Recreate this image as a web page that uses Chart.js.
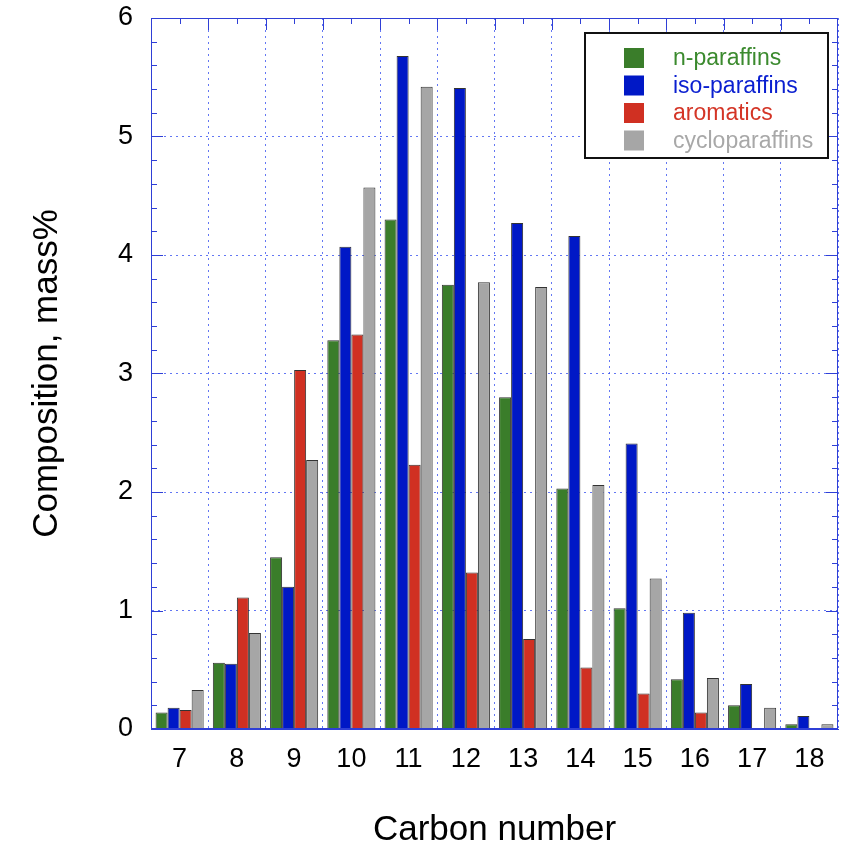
<!DOCTYPE html>
<html>
<head>
<meta charset="utf-8">
<script src="https://cdn.jsdelivr.net/npm/chart.js@4.4.0/dist/chart.umd.min.js"></script>
<style>
  body { margin: 0; background: #fff; }
  #wrap { width: 856px; height: 848px; }
</style>
</head>
<body>
<div id="wrap"><canvas id="carbchart" width="856" height="848"></canvas></div>
<script>
var carbonNumbers = ["7","8","9","10","11","12","13","14","15","16","17","18"];
var nParaffins   = [0.14, 0.56, 1.45, 3.28, 4.30, 3.75, 2.80, 2.03, 1.02, 0.42, 0.20, 0.04];
var isoParaffins = [0.18, 0.55, 1.20, 4.07, 5.68, 5.41, 4.27, 4.16, 2.41, 0.98, 0.38, 0.11];
var aromatics    = [0.16, 1.11, 3.03, 3.33, 2.23, 1.32, 0.76, 0.52, 0.30, 0.14, null, null];
var cycloParaffins = [0.33, 0.81, 2.27, 4.57, 5.42, 3.77, 3.73, 2.06, 1.27, 0.43, 0.18, 0.04];
var yTicks = [0, 1, 2, 3, 4, 5, 6];

var axisBlue = "#2f3fd6";
var gridBlue = "rgba(60,85,240,0.8)";

Chart.defaults.font.family = "'Liberation Sans', Arial, sans-serif";
Chart.defaults.color = "black";

function bars(label, data, fill, textColor) {
  return {
    label: label,
    data: data,
    backgroundColor: fill,
    borderColor: "#333",
    borderWidth: 1,
    textColor: textColor,
    categoryPercentage: 0.84,
    barPercentage: 1.0
  };
}

// frame, inward ticks and boxed legend
var framePlugin = {
  id: "frame",
  afterDraw: function(chart) {
    var ctx = chart.ctx, a = chart.chartArea;
    var y = chart.scales.y, x = chart.scales.x;
    ctx.save();
    ctx.setLineDash([]);
    ctx.strokeStyle = axisBlue;
    ctx.lineWidth = 1;
    ctx.strokeRect(a.left + 0.5, a.top + 0.5, a.right - a.left - 1, a.bottom - a.top - 1);
    ctx.beginPath();
    for (var v = 0; v <= 6.001; v += 0.2) {
      var py = Math.round(y.getPixelForValue(v)) + 0.5;
      var major = Math.abs(v - Math.round(v)) < 0.01;
      var len = major ? 12 : 6;
      ctx.moveTo(a.left, py); ctx.lineTo(a.left + len, py);
      ctx.moveTo(a.right, py); ctx.lineTo(a.right - len, py);
    }
    for (var i = 0; i < carbonNumbers.length; i++) {
      var cx = Math.round(x.getPixelForValue(i)) + 0.5;
      ctx.moveTo(cx, a.top); ctx.lineTo(cx, a.top + 6);
      if (i > 0) {
        var bx = Math.round((x.getPixelForValue(i) + x.getPixelForValue(i - 1)) / 2) + 0.5;
        ctx.moveTo(bx, a.top); ctx.lineTo(bx, a.top + 12);
      }
    }
    ctx.stroke();

    // legend box
    ctx.fillStyle = "#fff";
    ctx.fillRect(585, 33, 243, 125);
    ctx.strokeStyle = "#111";
    ctx.lineWidth = 2;
    ctx.strokeRect(585, 33, 243, 125);
    ctx.font = "23px 'Liberation Sans', Arial, sans-serif";
    ctx.textBaseline = "middle";
    chart.data.datasets.forEach(function(ds, k) {
      var top = 48 + k * 27.5;
      ctx.fillStyle = ds.backgroundColor;
      ctx.fillRect(624, top, 20, 20);
      ctx.fillStyle = ds.textColor;
      ctx.fillText(ds.label, 673, top + 11);
    });
    ctx.restore();
  }
};

new Chart(document.getElementById("carbchart"), {
  type: "bar",
  data: {
    labels: carbonNumbers,
    datasets: [
      bars("n-paraffins", nParaffins, "#3a7d2a", "#3b8a2e"),
      bars("iso-paraffins", isoParaffins, "#0018c6", "#0a1fd0"),
      bars("aromatics", aromatics, "#d03022", "#d43526"),
      bars("cycloparaffins", cycloParaffins, "#a6a6a6", "#a8a8a8")
    ]
  },
  options: {
    responsive: false,
    animation: false,
    layout: { padding: { top: 18, right: 18, left: 0, bottom: 0 } },
    plugins: {
      legend: { display: false },
      tooltip: { enabled: false }
    },
    scales: {
      x: {
        offset: true,
        afterFit: function(s) {
          s.height = 119;
          s.paddingLeft = 0; s.paddingRight = 0;
        },
        grid: {
          offset: true,
          color: gridBlue,
          lineWidth: 1,
          drawTicks: false
        },
        border: { display: true, color: axisBlue, dash: [2, 4] },
        ticks: { font: { size: 27 }, padding: 14 },
        title: {
          display: true,
          text: "Carbon number",
          font: { size: 35, lineHeight: 1.0 },
          padding: { top: 0, bottom: 0 }
        }
      },
      y: {
        min: 0,
        max: 6,
        afterFit: function(s) {
          s.width = 151;
          s.paddingTop = 0; s.paddingBottom = 0;
        },
        afterBuildTicks: function(s) { s.ticks = yTicks.map(function(v) { return { value: v }; }); },
        grid: {
          color: gridBlue,
          lineWidth: 1,
          drawTicks: false
        },
        border: { display: true, color: axisBlue, dash: [2, 4] },
        ticks: { font: { size: 27 }, padding: 18 },
        title: {
          display: true,
          text: "Composition, mass%",
          font: { size: 35, lineHeight: 1.0 },
          padding: { top: 30, bottom: 0 }
        }
      }
    }
  },
  plugins: [framePlugin]
});
</script>
</body>
</html>
